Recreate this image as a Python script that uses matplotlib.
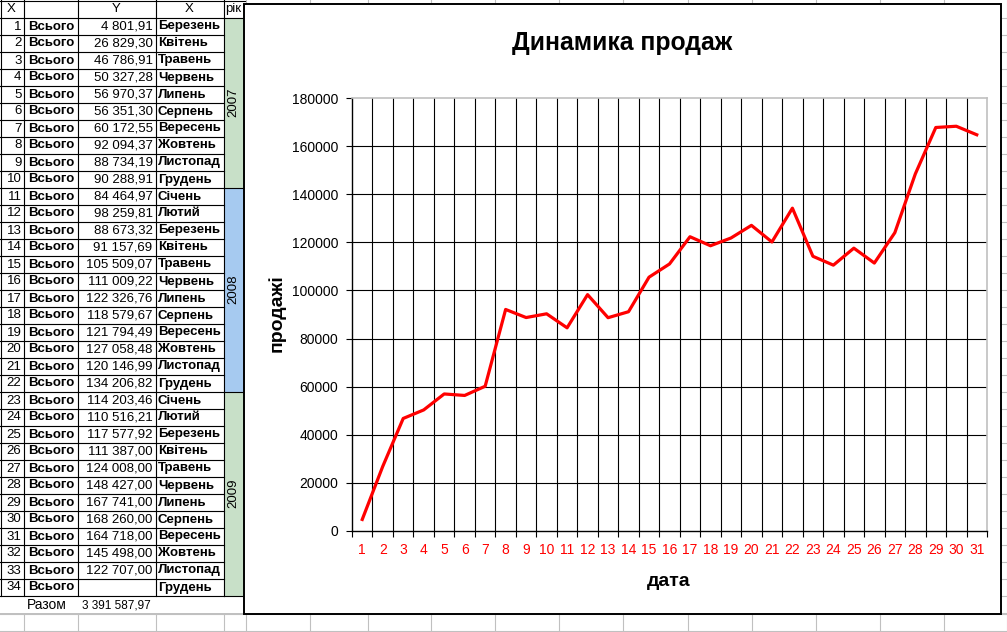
import matplotlib.pyplot as plt
from matplotlib.patches import Rectangle
import numpy as np

plt.rcParams["font.family"] = ["Liberation Sans", "DejaVu Sans"]

# Table data (read from the sheet)
row_label = "Всього"
sales = [
    4801.91, 26829.30, 46786.91, 50327.28, 56970.37, 56351.30, 60172.55,
    92094.37, 88734.19, 90288.91, 84464.97, 98259.81, 88673.32, 91157.69,
    105509.07, 111009.22, 122326.76, 118579.67, 121794.49, 127058.48,
    120146.99, 134206.82, 114203.46, 110516.21, 117577.92, 111387.00,
    124008.00, 148427.00, 167741.00, 168260.00, 164718.00, 145498.00,
    122707.00, None,
]
months = [
    "Березень", "Квітень", "Травень", "Червень", "Липень", "Серпень",
    "Вересень", "Жовтень", "Листопад", "Грудень",
    "Січень", "Лютий", "Березень", "Квітень", "Травень", "Червень",
    "Липень", "Серпень", "Вересень", "Жовтень", "Листопад", "Грудень",
    "Січень", "Лютий", "Березень", "Квітень", "Травень", "Червень",
    "Липень", "Серпень", "Вересень", "Жовтень", "Листопад", "Грудень",
]
years = ["2007", "2008", "2009"]
year_rows = [10, 12, 12]
year_colors = ["#C8E0C8", "#A6CAF0", "#C8E0C8"]
total_label = "Разом"
total_value = 3391587.97

# Chart data: first 31 rows of the table
n_days = 31
days = list(range(1, n_days + 1))
chart_values = sales[:n_days]

chart_title = "Динамика продаж"
x_title = "дата"
y_title = "продажі"


def fmt_money(v):
    return f"{v:,.2f}".replace(",", " ").replace(".", ",")


W, H = 1007, 632
fig = plt.figure(figsize=(W / 100, H / 100), dpi=100)
bg = fig.add_axes([0, 0, 1, 1])
bg.set_xlim(0, W)
bg.set_ylim(H, 0)
bg.axis("off")

grid_gray = "#C0C0C0"
row_h = 17
top = 17
col_x = [0.5, 23.5, 77.5, 155.5, 223.5, 245.5]

# sheet gridlines
for x in [23.5, 77.5, 155.5, 223.5, 245.5, 309.5, 367.5, 430.5, 494.5,
          558.5, 622.5, 687.5, 751.5, 815.5, 879.5, 943.5, 1006.5]:
    bg.plot([x, x], [0, H], color=grid_gray, lw=0.8, zorder=1)
for k in range(36):
    y = top + k * row_h + 0.5
    bg.plot([0, W], [y, y], color=grid_gray, lw=0.8, zorder=1)
for y in [613.5, 630.5]:
    bg.plot([0, W], [y, y], color=grid_gray, lw=0.8, zorder=1)

# "Разом" row is blank (no gridlines)
bg.add_patch(Rectangle((0, 596), 245, 17, facecolor="white", edgecolor="none", zorder=1.5))

# year column fills
y0 = top
for yr, n, c in zip(years, year_rows, year_colors):
    bg.add_patch(Rectangle((223.5, y0 + 0.5), 22, n * row_h, facecolor=c,
                           edgecolor="none", zorder=2))
    bg.text(233.5, y0 + n * row_h / 2, yr, rotation=90, ha="center", va="center",
            fontsize=9.5, zorder=4)
    y0 += n * row_h
    bg.plot([223.5, 245], [y0 + 0.5, y0 + 0.5], color="black", lw=0.8, zorder=3)

# table borders
n_rows = len(sales)
for k in range(n_rows + 1):
    y = top + k * row_h + 0.5
    bg.plot([0, 223.5], [y, y], color="black", lw=0.8, zorder=3)
bg.plot([0, 245], [0.5, 0.5], color="black", lw=0.8, zorder=3)
bg.plot([223.5, 245], [top + 0.5, top + 0.5], color="black", lw=0.8, zorder=3)
table_bottom = top + n_rows * row_h + 0.5
for x in col_x[:5]:
    bg.plot([x, x], [0, table_bottom], color="black", lw=0.8, zorder=3)

# header
fs = 9.5
hy = top / 2 + 0.5
bg.text(11.5, hy, "X", ha="center", va="center", fontsize=fs, zorder=4)
bg.text(116, hy, "Y", ha="center", va="center", fontsize=fs, zorder=4)
bg.text(189, hy, "X", ha="center", va="center", fontsize=fs, zorder=4)
bg.text(225, hy, "рік", ha="left", va="center", fontsize=fs, zorder=4)

# rows
for i in range(n_rows):
    yc = top + i * row_h + row_h / 2 + 1
    bg.text(21.5, yc, str(i + 1), ha="right", va="center", fontsize=fs, zorder=4)
    bg.text(28, yc, row_label, ha="left", va="center", fontsize=fs,
            fontweight="bold", zorder=4)
    if sales[i] is not None:
        bg.text(152.5, yc, fmt_money(sales[i]), ha="right", va="center",
                fontsize=fs, zorder=4)
    bg.text(158, yc, months[i], ha="left", va="center", fontsize=fs,
            fontweight="bold", zorder=4)

bg.text(27, 605, total_label, ha="left", va="center", fontsize=10, zorder=4)
bg.text(82, 605, fmt_money(total_value), ha="left", va="center", fontsize=8.5, zorder=4)

# chart frame
bg.add_patch(Rectangle((243.5, 3.5), 757.5, 610.5, facecolor="white",
                       edgecolor="black", lw=1.4, zorder=5))
bg.text(622, 43, chart_title, ha="center", va="center", fontsize=17.8,
        fontweight="bold", zorder=6)
bg.text(669, 581, x_title, ha="center", va="center", fontsize=14,
        fontweight="bold", zorder=6)
bg.text(277, 313, y_title, ha="center", va="center", rotation=90, fontsize=14,
        fontweight="bold", zorder=6)

# plot area
px0, px1, py0, py1 = 352, 987, 98, 531
ax = fig.add_axes([px0 / W, (H - py1) / H, (px1 - px0) / W, (py1 - py0) / H])
ax.plot(days, chart_values, color="#FF0000", lw=2.3, zorder=3)
ax.set_xlim(0.5, n_days + 0.5)
ax.set_ylim(0, 180000)
ax.set_xticks(days)
ax.set_xticks(np.arange(0.5, n_days + 1), minor=True)
ax.set_yticks(np.arange(0, 180001, 20000))
ax.yaxis.set_major_formatter(plt.FuncFormatter(lambda v, p: f"{int(v)}"))
ax.set_axisbelow(True)
ax.grid(True, axis="y", which="major", color="black", lw=0.8)
ax.grid(True, axis="x", which="minor", color="black", lw=0.8)
ax.grid(False, axis="x", which="major")
ax.yaxis.get_gridlines()[0].set_visible(False)
ax.yaxis.get_gridlines()[-1].set_visible(False)
mgl = [t.gridline for t in ax.xaxis.get_minor_ticks()]
mgl[0].set_visible(False)
mgl[-1].set_visible(False)

ax.tick_params(axis="x", which="major", length=0, pad=9, labelcolor="red",
               labelsize=10)
ax.tick_params(axis="x", which="minor", length=4, width=0.8, color="black",
               direction="out")
ax.tick_params(axis="y", length=4, width=0.8, pad=6, labelsize=10,
               direction="out")
for s in ("left", "bottom"):
    ax.spines[s].set_color("black")
    ax.spines[s].set_linewidth(1.0)
for s in ("top", "right"):
    ax.spines[s].set_color("#C0C0C0")
    ax.spines[s].set_linewidth(1.2)

fig.savefig("out.png", dpi=100)
